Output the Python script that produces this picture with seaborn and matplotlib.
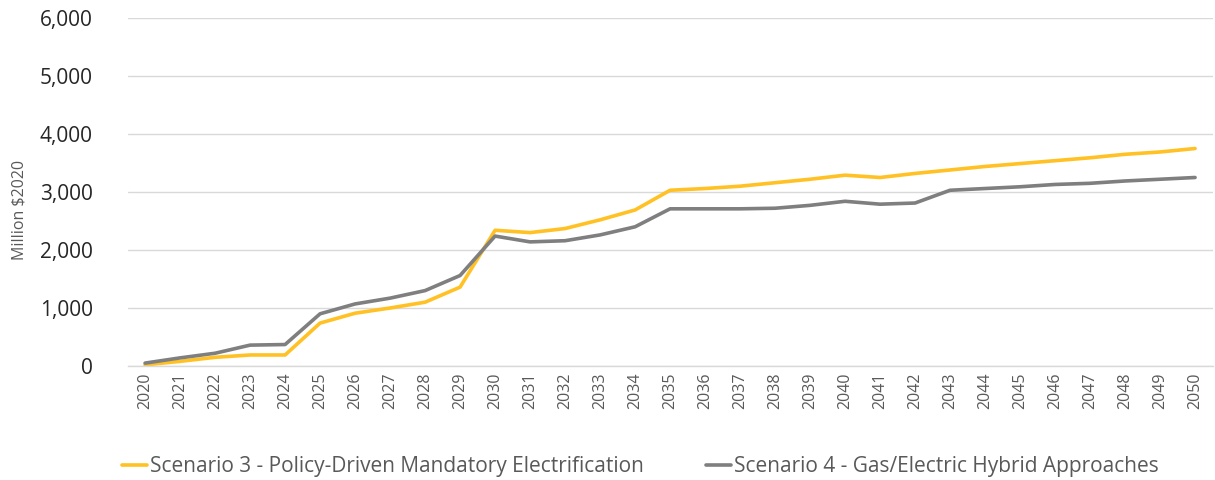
import pandas as pd
import matplotlib
matplotlib.use("Agg")
import matplotlib.pyplot as plt
import seaborn as sns

years = list(range(2020, 2051))
scenario_3 = [20, 80, 150, 190, 190, 740, 910, 1000, 1100, 1360,
              2340, 2300, 2370, 2520, 2690, 3030, 3060, 3100, 3160, 3220,
              3290, 3250, 3320, 3380, 3440, 3490, 3540, 3590, 3650, 3690, 3750]
scenario_4 = [50, 140, 220, 360, 370, 900, 1070, 1170, 1300, 1560,
              2240, 2140, 2160, 2260, 2400, 2710, 2710, 2710, 2720, 2770,
              2840, 2790, 2810, 3030, 3060, 3090, 3130, 3150, 3190, 3220, 3250]
series_names = ["Scenario 3 - Policy-Driven Mandatory Electrification",
                "Scenario 4 - Gas/Electric Hybrid Approaches"]
y_ticks = [0, 1000, 2000, 3000, 4000, 5000, 6000]

df = pd.DataFrame({"year": years, series_names[0]: scenario_3, series_names[1]: scenario_4})
long_df = df.melt(id_vars="year", var_name="series", value_name="value")
long_df["pos"] = long_df["year"] - years[0]

sns.set_theme(style="white")
plt.rcParams["font.family"] = ["Open Sans", "DejaVu Sans"]

text_color = "#595959"
palette = {series_names[0]: "#FFC124", series_names[1]: "#7F7F7F"}

fig = plt.figure(figsize=(12.15, 4.8), dpi=100)
ax = fig.add_axes([0.105, 0.2375, 0.893, 0.725])

sns.lineplot(data=long_df, x="pos", y="value", hue="series", palette=palette,
             linewidth=2.6, ax=ax, legend=True)

ax.set_xlim(-0.5, len(years) - 0.5)
ax.set_ylim(0, 6000)
ax.set_xticks(range(len(years)))
ax.set_xticklabels([str(y) for y in years], rotation=90, fontsize=11.5, color=text_color)
ax.set_yticks(y_ticks)
ax.set_yticklabels([f"{v:,}" for v in y_ticks], fontsize=15, color="#262626")
ax.tick_params(axis="both", length=0)
ax.tick_params(axis="y", pad=25)
ax.tick_params(axis="x", pad=5)
ax.set_xlabel("")
ax.set_ylabel("Million $2020", fontsize=11.5, color=text_color)
ax.yaxis.set_label_coords(-0.092, 0.448)

ax.grid(axis="y", color="#D9D9D9", linewidth=1)
for side in ["top", "right", "left"]:
    ax.spines[side].set_visible(False)
ax.spines["bottom"].set_color("#D9D9D9")
ax.spines["bottom"].set_linewidth(1)

handles, labels = ax.get_legend_handles_labels()
ax.legend(handles, labels, loc="center", bbox_to_anchor=(0.527, 0.028),
          bbox_transform=fig.transFigure, ncol=2, frameon=False, fontsize=15,
          handlelength=1.2, handletextpad=0.15, columnspacing=3.0,
          labelcolor=text_color)

fig.savefig("out.png", dpi=100)
